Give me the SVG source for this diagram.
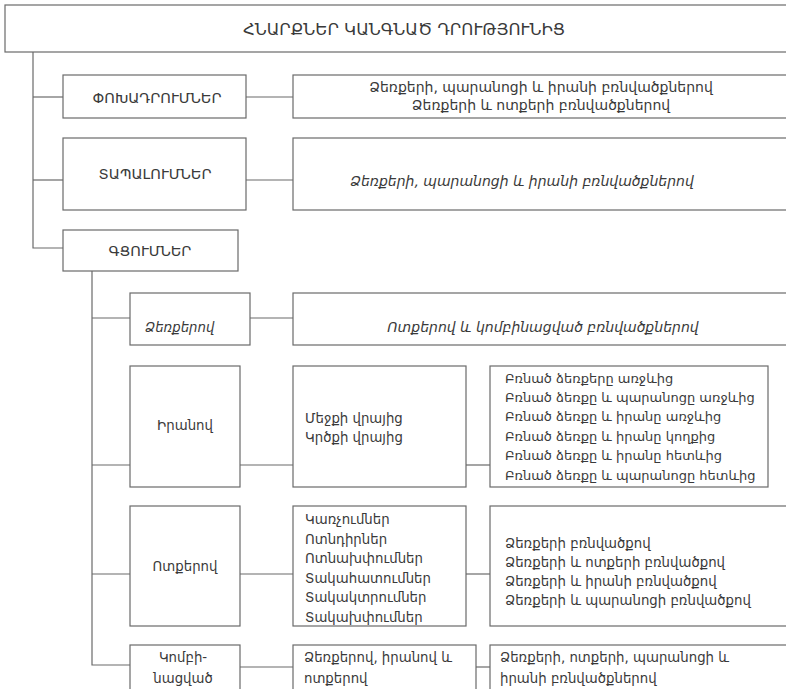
<svg xmlns="http://www.w3.org/2000/svg" width="786" height="689" viewBox="0 0 786 689">
<style>
rect{fill:#fff;stroke:#6a6a6a;stroke-width:1.2}
.c line,.c path{stroke:#6a6a6a;stroke-width:1.2;fill:none}
text{font-family:"DejaVu Sans","Noto Sans",sans-serif;font-size:13px;fill:#3a3a3a}
.t{font-size:16.5px;text-anchor:middle}
.h{font-size:14.5px;text-anchor:middle}
.d{font-size:14px;text-anchor:middle}
.m{text-anchor:middle}
.i{font-style:italic}
.s{font-size:13.3px}
</style>
<rect x="0" y="0" width="786" height="689" style="fill:#fff;stroke:none"/>
<g class="c">
<path d="M33,52 V248 H63"/>
<line x1="33" y1="97" x2="63" y2="97"/>
<line x1="246" y1="97" x2="293" y2="97"/>
<line x1="33" y1="180" x2="63" y2="180"/>
<line x1="246" y1="180" x2="293" y2="180"/>
<path d="M92,271 V665 H130"/>
<line x1="92" y1="318" x2="130" y2="318"/>
<line x1="250" y1="318" x2="293" y2="318"/>
<line x1="92" y1="465" x2="130" y2="465"/>
<line x1="240" y1="465" x2="293" y2="465"/>
<line x1="466" y1="465" x2="490" y2="465"/>
<line x1="92" y1="574" x2="130" y2="574"/>
<line x1="240" y1="574" x2="293" y2="574"/>
<line x1="466" y1="574" x2="490" y2="574"/>
<line x1="240" y1="667" x2="293" y2="667"/>
<line x1="476" y1="667" x2="490" y2="667"/>
</g>
<g id="title"><rect x="5" y="5" width="790" height="47"/><text class="t" x="404" y="35">ՀՆԱՐՔՆԵՐ ԿԱՆԳՆԱԾ ԴՐՈՒԹՅՈՒՆԻՑ</text></g>
<g id="pokhadrumner"><rect x="63" y="75" width="183" height="43"/><text class="h" x="157" y="103">ՓՈԽԱԴՐՈՒՄՆԵՐ</text></g>
<g id="pokhadrumner-d"><rect x="293" y="75" width="500" height="43"/><text class="d" x="541" y="92">Ձեռքերի, պարանոցի և իրանի բռնվածքներով</text><text class="d" x="541" y="110">Ձեռքերի և ոտքերի բռնվածքներով</text></g>
<g id="tapalumner"><rect x="63" y="138" width="183" height="72"/><text class="h" x="155" y="179">ՏԱՊԱԼՈՒՄՆԵՐ</text></g>
<g id="tapalumner-d"><rect x="293" y="138" width="500" height="72"/><text class="d i" x="522" y="186">Ձեռքերի, պարանոցի և իրանի բռնվածքներով</text></g>
<g id="gcumner"><rect x="63" y="230" width="175" height="41"/><text class="h" x="150" y="256">ԳՑՈՒՄՆԵՐ</text></g>
<g id="dzerqerov"><rect x="130" y="293" width="120" height="52"/><text class="i s" x="145" y="332">Ձեռքերով</text></g>
<g id="dzerqerov-d"><rect x="293" y="293" width="500" height="52"/><text class="d i" x="543" y="332">Ոտքերով և կոմբինացված բռնվածքներով</text></g>
<g id="iranov"><rect x="130" y="366" width="110" height="121"/><text class="m s" x="185" y="430">Իրանով</text></g>
<g id="iranov-m"><rect x="293" y="366" width="173" height="121"/><text class="s" x="305" y="423">Մեջքի վրայից</text><text class="s" x="305" y="442">Կրծքի վրայից</text></g>
<g id="iranov-d"><rect x="490" y="366" width="278" height="121"/>
<text x="505" y="383">Բռնած ձեռքերը առջևից</text>
<text x="505" y="402">Բռնած ձեռքը և պարանոցը առջևից</text>
<text x="505" y="421">Բռնած ձեռքը և իրանը առջևից</text>
<text x="505" y="441">Բռնած ձեռքը և իրանը կողքից</text>
<text x="505" y="460">Բռնած ձեռքը և իրանը հետևից</text>
<text x="505" y="480">Բռնած ձեռքը և պարանոցը  հետևից</text></g>
<g id="votqerov"><rect x="130" y="506" width="110" height="120"/><text class="m s" x="185" y="571">Ոտքերով</text></g>
<g id="votqerov-m"><rect x="293" y="506" width="173" height="120"/>
<text class="s" x="305" y="524">Կառչումներ</text>
<text class="s" x="305" y="544">Ոտնդիրներ</text>
<text class="s" x="305" y="563">Ոտնախփումներ</text>
<text class="s" x="305" y="583">Տակահատումներ</text>
<text class="s" x="305" y="602">Տակակտրումներ</text>
<text class="s" x="305" y="622">Տակախփումներ</text></g>
<g id="votqerov-d"><rect x="490" y="506" width="300" height="120"/>
<text class="s" x="505" y="548">Ձեռքերի բռնվածքով</text>
<text class="s" x="505" y="567">Ձեռքերի և ոտքերի բռնվածքով</text>
<text class="s" x="505" y="586">Ձեռքերի և իրանի բռնվածքով</text>
<text class="s" x="505" y="605">Ձեռքերի և պարանոցի բռնվածքով</text></g>
<g id="kombinacvac"><rect x="130" y="645" width="110" height="50"/><text class="m s" x="183" y="662">Կոմբի-</text><text class="m s" x="183" y="683">նացված</text></g>
<g id="kombinacvac-m"><rect x="293" y="645" width="183" height="50"/><text class="s" x="304" y="662">Ձեռքերով, իրանով և</text><text class="s" x="304" y="683">ոտքերով</text></g>
<g id="kombinacvac-d"><rect x="490" y="645" width="300" height="50"/><text class="s" x="500" y="662">Ձեռքերի, ոտքերի, պարանոցի և</text><text class="s" x="500" y="683">իրանի բռնվածքներով</text></g>
</svg>
